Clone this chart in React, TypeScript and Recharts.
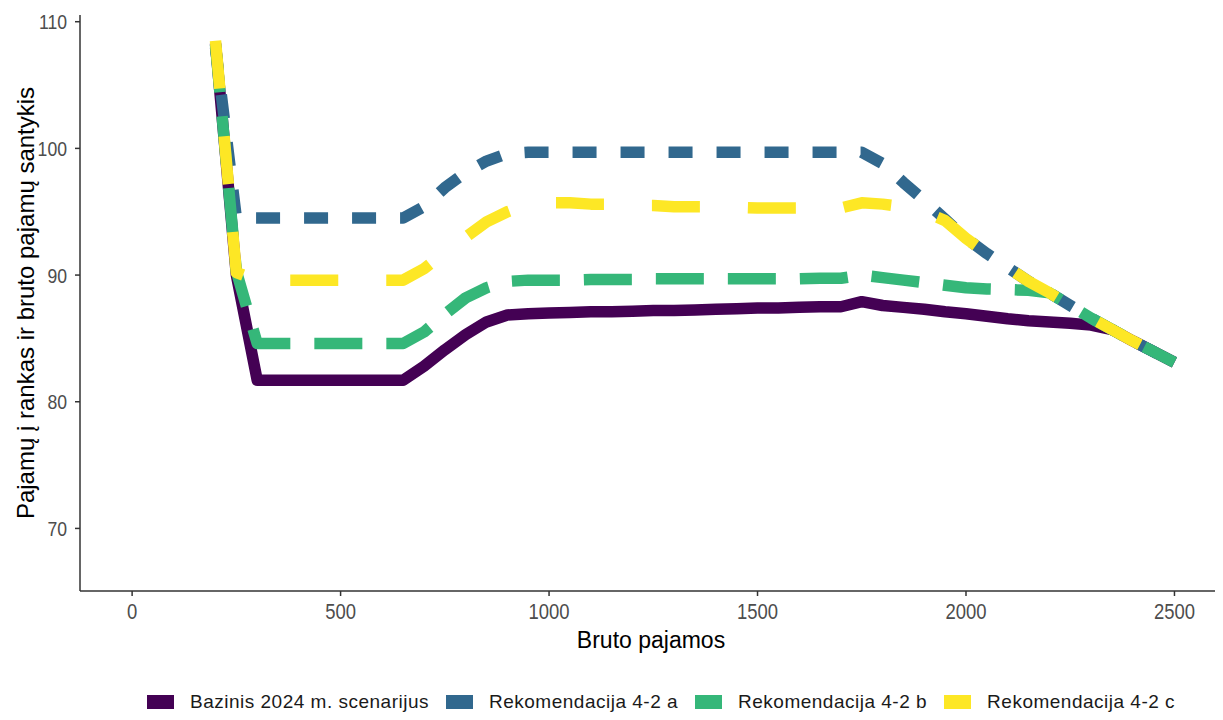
import { Line, LineChart, XAxis, YAxis } from "recharts";

const income = [
  200, 250, 300, 350, 400, 450, 500, 550, 600, 650, 700, 750, 800, 850, 900,
  950, 1000, 1050, 1100, 1150, 1200, 1250, 1300, 1350, 1400, 1450, 1500, 1550,
  1600, 1650, 1700, 1750, 1800, 1850, 1900, 1950, 2000, 2050, 2100, 2150, 2200,
  2250, 2300, 2350, 2400, 2450, 2500,
];

const baseline = [
  108.3, 90.0, 81.7, 81.7, 81.7, 81.7, 81.7, 81.7, 81.7, 81.7, 82.8, 84.1, 85.3,
  86.3, 86.85, 86.95, 87.0, 87.05, 87.1, 87.1, 87.15, 87.2, 87.2, 87.25, 87.3,
  87.35, 87.4, 87.4, 87.45, 87.5, 87.5, 87.9, 87.6, 87.45, 87.3, 87.1, 86.95,
  86.75, 86.55, 86.4, 86.3, 86.2, 86.05, 85.7, 84.8, 83.95, 83.1,
];

const recA = [
  108.0, 94.5, 94.5, 94.5, 94.5, 94.5, 94.5, 94.5, 94.5, 94.5, 95.4, 96.9, 98.1,
  99.0, 99.6, 99.7, 99.7, 99.7, 99.7, 99.7, 99.7, 99.7, 99.7, 99.7, 99.7, 99.7,
  99.7, 99.7, 99.7, 99.7, 99.7, 99.7, 98.8, 97.3, 95.9, 94.4, 92.9, 91.7, 90.6,
  89.5, 88.6, 87.6, 86.6, 85.7, 84.8, 83.95, 83.1,
];

const recB = [
  108.2, 90.3, 84.6, 84.6, 84.6, 84.6, 84.6, 84.6, 84.6, 84.6, 85.5, 86.9, 88.2,
  89.0, 89.5, 89.6, 89.6, 89.6, 89.65, 89.65, 89.65, 89.7, 89.7, 89.7, 89.7,
  89.7, 89.7, 89.7, 89.7, 89.75, 89.75, 90.0, 89.8, 89.6, 89.4, 89.2, 89.0, 88.9,
  88.85, 88.8, 88.6, 87.6, 86.6, 85.7, 84.8, 83.95, 83.1,
];

const recC = [
  108.5, 90.2, 89.6, 89.6, 89.6, 89.6, 89.6, 89.6, 89.6, 89.6, 90.5, 91.8, 93.0,
  94.2, 95.0, 95.6, 95.7, 95.7, 95.6, 95.6, 95.5, 95.5, 95.4, 95.4, 95.4, 95.35,
  95.3, 95.3, 95.3, 95.3, 95.3, 95.7, 95.6, 95.4, 95.0, 94.3, 92.9, 91.7, 90.6,
  89.5, 88.6, 87.6, 86.6, 85.7, 84.8, 83.95, 83.1,
];

const xTicks = [0, 500, 1000, 1500, 2000, 2500];
const yTicks = [70, 80, 90, 100, 110];

const series = [
  { key: "baseline", name: "Bazinis 2024 m. scenarijus", color: "#440154", dash: undefined },
  { key: "recA", name: "Rekomendacija 4-2 a", color: "#31688E", dash: "24 24" },
  { key: "recB", name: "Rekomendacija 4-2 b", color: "#35B779", dash: "48 24" },
  { key: "recC", name: "Rekomendacija 4-2 c", color: "#FDE725", dash: "48 48" },
];

const rows = income.map((x, i) => ({
  x,
  baseline: baseline[i],
  recA: recA[i],
  recB: recB[i],
  recC: recC[i],
}));

const font = "'Liberation Sans', Arial, sans-serif";

// tick text is a bit condensed in the original, squeeze it horizontally
function XTick({ x, y, payload }: any) {
  return (
    <g transform={`translate(${x},${y})`}>
      <text transform="scale(0.84,1)" textAnchor="middle" dy="0.71em" fontSize={22} fontFamily={font} fill="#4D4D4D">
        {payload.value}
      </text>
    </g>
  );
}

function YTick({ x, y, payload }: any) {
  return (
    <g transform={`translate(${x},${y})`}>
      <text transform="scale(0.84,1)" textAnchor="end" dy="0.355em" fontSize={21} fontFamily={font} fill="#4D4D4D">
        {payload.value}
      </text>
    </g>
  );
}

function XTitle({ viewBox }: any) {
  const { x, y, width } = viewBox;
  return (
    <text x={x + width / 2} y={y + 57} textAnchor="middle" fontSize={23} fontFamily={font} fill="#000">
      Bruto pajamos
    </text>
  );
}

function YTitle({ viewBox }: any) {
  const { y, height } = viewBox;
  const cx = 26;
  const cy = y + height / 2;
  return (
    <text
      x={cx}
      y={cy}
      textAnchor="middle"
      fontSize={24}
      fontFamily={font}
      fill="#000"
      transform={`rotate(-90 ${cx} ${cy})`}
    >
      Pajamų į rankas ir bruto pajamų santykis
    </text>
  );
}

export default function App() {
  return (
    <div style={{ position: "relative", width: 1215, height: 712, background: "#fff" }}>
      <LineChart width={1215} height={660} data={rows} margin={{ top: 7, right: 1, bottom: 0, left: 0 }}>
        <XAxis
          dataKey="x"
          type="number"
          domain={[-125, 2614]}
          ticks={xTicks}
          allowDataOverflow
          height={77}
          tickSize={5}
          tickMargin={7}
          stroke="#333"
          strokeWidth={1.5}
          tick={<XTick />}
          label={<XTitle />}
        />
        <YAxis
          type="number"
          domain={[65.06, 110.53]}
          ticks={yTicks}
          allowDataOverflow
          width={72}
          tickSize={5}
          tickMargin={8}
          stroke="#333"
          strokeWidth={1.5}
          tick={<YTick />}
          label={<YTitle />}
        />
        {series.map((s) => (
          <Line
            key={s.key}
            dataKey={s.key}
            name={s.name}
            type="linear"
            stroke={s.color}
            strokeWidth={11.5}
            strokeDasharray={s.dash}
            strokeLinejoin="round"
            dot={false}
            activeDot={false}
            isAnimationActive={false}
          />
        ))}
      </LineChart>
      <div
        style={{
          position: "absolute",
          left: 139,
          top: 683,
          display: "flex",
          alignItems: "center",
          fontFamily: font,
          fontSize: 19,
          letterSpacing: 0.5,
          color: "#1a1a1a",
          whiteSpace: "nowrap",
        }}
      >
        {series.map((s) => (
          <div key={s.key} style={{ display: "flex", alignItems: "center", marginRight: 17 }}>
            <span style={{ display: "inline-block", width: 27, height: 14, background: s.color, marginRight: 16 }} />
            <span>{s.name}</span>
          </div>
        ))}
      </div>
    </div>
  );
}
